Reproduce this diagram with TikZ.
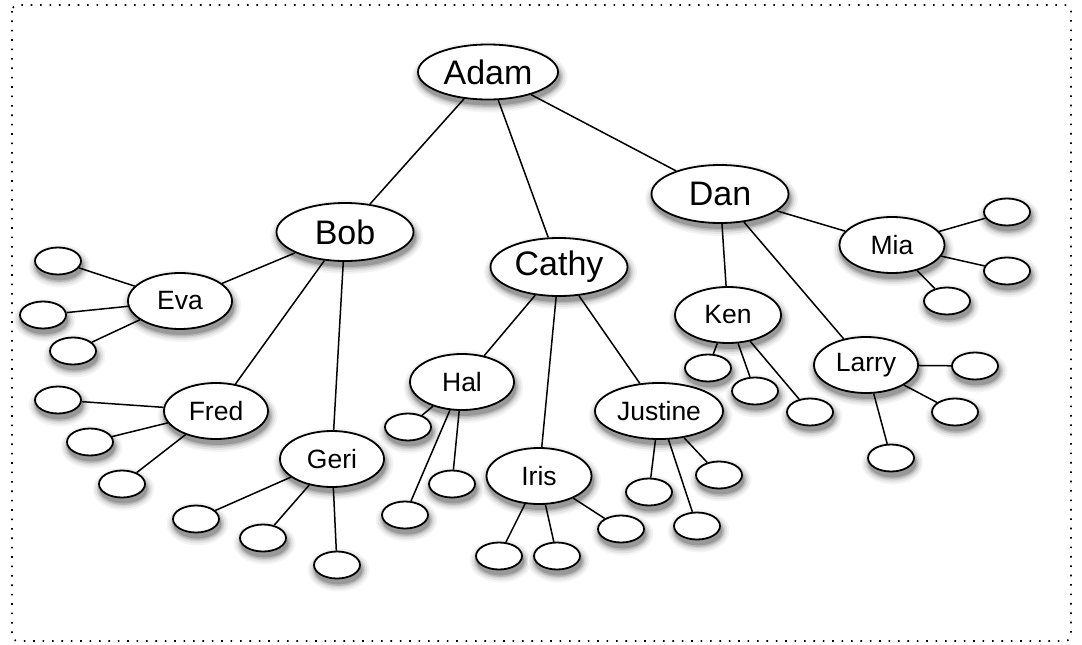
\documentclass[tikz,border=0pt]{standalone}
\usepackage{fontspec}
\setmainfont{Liberation Sans}
\usetikzlibrary{shapes.geometric,calc}
\pgfdeclarelayer{shadowlayer}
\pgfsetlayers{shadowlayer,main}
% shadow tones, from the faint rim inwards
\definecolor{shadeA}{rgb}{0.955,0.955,0.955}
\definecolor{shadeB}{rgb}{0.90,0.90,0.90}
\definecolor{shadeC}{rgb}{0.82,0.82,0.82}
\definecolor{shadeD}{rgb}{0.72,0.72,0.72}
\definecolor{shadeE}{rgb}{0.60,0.60,0.60}
\begin{document}
\begin{tikzpicture}[x=1pt,y=-1pt,
  blob/.style={ellipse,draw=black,line width=1.8pt,fill=white,inner sep=0pt},
  big/.style={blob,minimum width=137pt,minimum height=58pt,font=\fontsize{34}{34}\selectfont},
  mid/.style={blob,minimum width=104pt,minimum height=56pt,font=\fontsize{26.5}{26.5}\selectfont},
  leaf/.style={blob,minimum width=46pt,minimum height=27pt},
  link/.style={line width=1.5pt}]
\useasboundingbox (0,0) rectangle (1082,645);
\draw[line width=1.6pt,dash pattern=on 1.6pt off 7.8pt,rounded corners=6pt] (12,5) rectangle (1071,641);

% inner people
\node[big,minimum width=140pt,minimum height=55pt] (adam) at (488,72) {Adam};
\node[big] (bob) at (345,232) {Bob};
\node[big] (cathy) at (559,267) {Cathy};
\node[big] (dan) at (720,194) {Dan};
\node[mid] (eva) at (180,301) {Eva};
\node[mid] (fred) at (216,411) {Fred};
\node[mid] (geri) at (332,459) {Geri};
\node[mid] (hal) at (462,382) {Hal};
\node[mid,minimum width=105pt] (iris) at (539,476) {Iris};
\node[mid,minimum width=128pt] (justine) at (659,411) {Justine};
\node[mid,minimum width=106pt] (ken) at (728,315) {Ken};
\node[mid] (larry) at (866,365) {Larry};
\node[mid,minimum width=105pt] (mia) at (892,245) {Mia};

% leaves
\node[leaf] (e1) at (58,261) {};
\node[leaf] (e2) at (43,315) {};
\node[leaf] (e3) at (73,351) {};
\node[leaf] (f1) at (58,400) {};
\node[leaf] (f2) at (90,442) {};
\node[leaf] (f3) at (122,484) {};
\node[leaf] (g1) at (196,519) {};
\node[leaf] (g2) at (263,538) {};
\node[leaf] (g3) at (337,565) {};
\node[leaf] (h1) at (408,427) {};
\node[leaf] (h2) at (452,484) {};
\node[leaf] (h3) at (405,515) {};
\node[leaf] (i1) at (499,556) {};
\node[leaf] (i2) at (557,556) {};
\node[leaf] (i3) at (621,529) {};
\node[leaf] (j1) at (649,492) {};
\node[leaf] (j2) at (719,475) {};
\node[leaf] (j3) at (697,526) {};
\node[leaf] (k1) at (708,368) {};
\node[leaf] (k2) at (755,391) {};
\node[leaf] (k3) at (810,412) {};
\node[leaf] (l1) at (975,366) {};
\node[leaf] (l2) at (955,412) {};
\node[leaf] (l3) at (891,458) {};
\node[leaf] (m1) at (1007,212) {};
\node[leaf] (m2) at (1007,271) {};
\node[leaf] (m3) at (947,301) {};

% soft drop shadows, built from stacked grey ellipses behind every bubble
\begin{pgfonlayer}{shadowlayer}
\foreach \nd in {adam,bob,cathy,dan,eva,fred,geri,hal,iris,justine,ken,larry,mia,
  e1,e2,e3,f1,f2,f3,g1,g2,g3,h1,h2,h3,i1,i2,i3,j1,j2,j3,k1,k2,k3,l1,l2,l3,m1,m2,m3}{
  \foreach \g/\d in {shadeA/7pt,shadeB/5pt,shadeC/3pt,shadeD/1.5pt,shadeE/0pt}{
    \fill[color=\g] let \p1=($(\nd.east)-(\nd.center)$), \p2=($(\nd.north)-(\nd.center)$) in
      ($(\nd.center)+(1.5,5)$) ellipse [x radius=\x1+\d, y radius=\y2+\d];
  }
}
\end{pgfonlayer}

% connectors
\begin{scope}[link]
\draw (adam) -- (bob); \draw (adam) -- (cathy); \draw (adam) -- (dan);
\draw (bob) -- (eva); \draw (bob) -- (fred); \draw (bob) -- (geri);
\draw (cathy) -- (hal); \draw (cathy) -- (iris); \draw (cathy) -- (justine);
\draw (dan) -- (ken); \draw (dan) -- (larry); \draw (dan) -- (mia);
\foreach \a/\b in {eva/e1,eva/e2,eva/e3,fred/f1,fred/f2,fred/f3,geri/g1,geri/g2,geri/g3,
  hal/h1,hal/h2,hal/h3,iris/i1,iris/i2,iris/i3,justine/j1,justine/j2,justine/j3,
  ken/k1,ken/k2,ken/k3,larry/l1,larry/l2,larry/l3,mia/m1,mia/m2,mia/m3}
  \draw (\a) -- (\b);
\end{scope}
\end{tikzpicture}
\end{document}
